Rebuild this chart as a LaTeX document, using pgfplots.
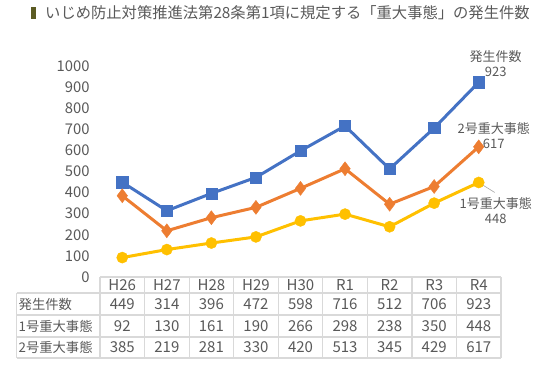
\documentclass[border=0pt]{standalone}
\usepackage{fontspec}
\setmainfont{Noto Sans CJK JP}
\usepackage{pgfplots}
\pgfplotsset{compat=1.18}
\usepackage{pgfplotstable}
\definecolor{cblue}{HTML}{4472C4}
\definecolor{corange}{HTML}{ED7D31}
\definecolor{cyellow}{HTML}{FFC000}
\definecolor{ctext}{HTML}{595959}
\definecolor{cgrid}{HTML}{D9D9D9}
\definecolor{cbar}{HTML}{5B5B23}

\pgfplotstableread{
x total no1 no2
0 449 92 385
1 314 130 219
2 396 161 281
3 472 190 330
4 598 266 420
5 716 298 513
6 512 238 345
7 706 350 429
8 923 448 617
}\datatable

\begin{document}
\begin{tikzpicture}[x=1pt,y=1pt]
\path (0,0) rectangle (548,365);
% title
\fill[cbar] (31,346) rectangle (35.5,357.5);
\node[anchor=west, text=ctext, font=\fontsize{15.3}{16}\selectfont, inner sep=0] at (45,352) {いじめ防止対策推進法第28条第1項に規定する「重大事態」の発生件数};

\begin{axis}[at={(100pt,88pt)}, anchor=south west, scale only axis,
  width=401pt, height=211pt, xmin=-0.5, xmax=8.5, ymin=0, ymax=1000,
  hide x axis, axis y line*=left, y axis line style={draw=none},
  ytick={0,100,...,1000}, major tick length=0pt,
  yticklabel style={font=\fontsize{14.8}{15}\selectfont, text=ctext, xshift=-7pt},
  /pgf/number format/assume math mode=true, /pgf/number format/1000 sep={},
  clip=false]
\addplot[cblue, line width=3pt, mark=square*, mark size=5.6pt, mark options={line width=0.4pt}] table[x=x,y=total]{\datatable};
\addplot[corange, line width=3pt, mark=diamond*, mark size=7pt, mark options={line width=0.4pt}] table[x=x,y=no2]{\datatable};
\addplot[cyellow, line width=3pt, mark=*, mark size=5.6pt, mark options={line width=0.4pt}] table[x=x,y=no1]{\datatable};
\draw[gray!70, line width=0.6pt] (axis cs:8,448) -- ++(16pt,-10pt);
\node[text=ctext, font=\fontsize{13}{15}\selectfont, align=center, inner sep=0] at ([xshift=17pt,yshift=18.5pt]axis cs:8,923) {発生件数\\923};
\node[text=ctext, font=\fontsize{13}{15}\selectfont, align=center, inner sep=0] at ([xshift=15pt,yshift=11.5pt]axis cs:8,617) {2号重大事態\\617};
\node[text=ctext, font=\fontsize{13}{15}\selectfont, align=center, inner sep=0] at ([xshift=17pt,yshift=-28.5pt]axis cs:8,448) {1号重大事態\\448};
\end{axis}

% table grid
\begin{scope}[cgrid, line width=1.2pt]
\draw (100,88) -- (501,88);
\foreach \yy in {72,50,28,7} \draw (16.7,\yy) -- (501,\yy);
\draw (16.7,72) -- (16.7,7);
\foreach \k in {0,...,9} \draw ({100+44.56*\k},88) -- ({100+44.56*\k},7);
\end{scope}
% table text
\begin{scope}[every node/.style={text=ctext, inner sep=0, font=\fontsize{15}{15}\selectfont}]
\foreach \t [count=\i from 0] in {H26,H27,H28,H29,H30,R1,R2,R3,R4}
  \node at ({122.28+44.56*\i},80) {\t};
\foreach \t [count=\i from 0] in {449,314,396,472,598,716,512,706,923}
  \node at ({122.28+44.56*\i},61) {\t};
\foreach \t [count=\i from 0] in {92,130,161,190,266,298,238,350,448}
  \node at ({122.28+44.56*\i},39) {\t};
\foreach \t [count=\i from 0] in {385,219,281,330,420,513,345,429,617}
  \node at ({122.28+44.56*\i},17.5) {\t};
\node[anchor=west, font=\fontsize{13.3}{14}\selectfont] at (18.5,61) {発生件数};
\node[anchor=west, font=\fontsize{13.3}{14}\selectfont] at (18.5,39) {1号重大事態};
\node[anchor=west, font=\fontsize{13.3}{14}\selectfont] at (18.5,17.5) {2号重大事態};
\end{scope}
\end{tikzpicture}
\end{document}
